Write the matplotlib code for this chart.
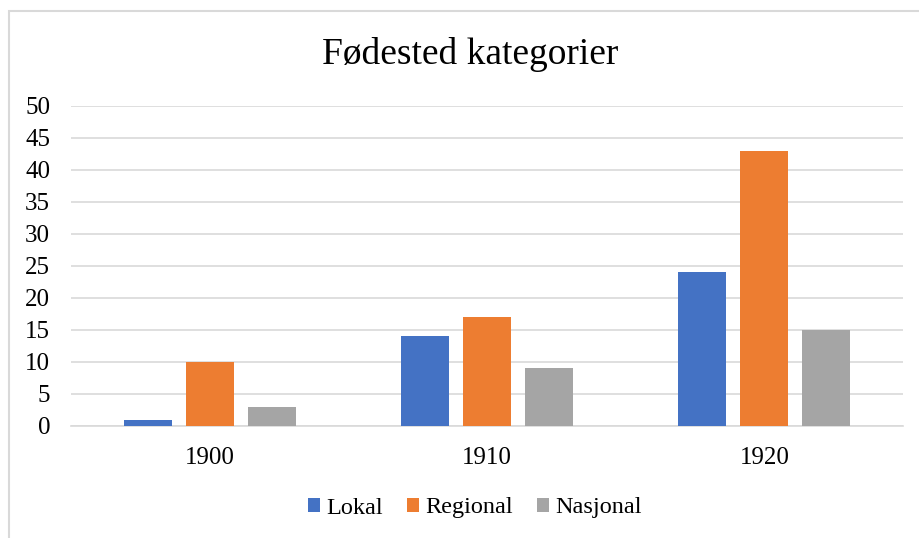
import matplotlib
matplotlib.use("Agg")
import matplotlib.pyplot as plt
import numpy as np
from matplotlib.patches import Rectangle

plt.rcParams['font.family'] = ['Liberation Serif', 'DejaVu Serif']

categories = ["1900", "1910", "1920"]
series_names = ["Lokal", "Regional", "Nasjonal"]
lokal = [1, 14, 24]
regional = [10, 17, 43]
nasjonal = [3, 9, 15]
colors = ["#4472C4", "#ED7D31", "#A5A5A5"]
yticks = [0, 5, 10, 15, 20, 25, 30, 35, 40, 45, 50]

W, H = 920, 538
fig = plt.figure(figsize=(W/100, H/100), dpi=100)
fig.patch.set_facecolor("white")

# chart border (Excel chart area outline)
fig.patches.append(Rectangle((8.5/W, -0.1), 1.2, 1 - 11/H + 0.1, transform=fig.transFigure,
                             fill=False, edgecolor="#d9d9d9", linewidth=1.5, zorder=0))

ax = fig.add_axes([71/W, 1 - 426/H, (903-71)/W, (426-106)/H])
x = np.arange(len(categories))
width = 0.173
offset = 0.2236
data = [lokal, regional, nasjonal]
handles = []
for i, (vals, name, c) in enumerate(zip(data, series_names, colors)):
    b = ax.bar(x + (i-1)*offset, vals, width, color=c, label=name, zorder=3)
    handles.append(b)

ax.set_xlim(-0.5, 2.5)
ax.set_ylim(0, 50)
ax.set_yticks(yticks)
ax.set_yticklabels([str(v) for v in yticks], fontsize=18)
ax.set_xticks(x)
ax.set_xticklabels(categories, fontsize=18)
ax.tick_params(axis='both', length=0)
ax.tick_params(axis='y', pad=15)
ax.tick_params(axis='x', pad=15)
ax.grid(axis='y', color="#d9d9d9", linewidth=1.2, zorder=0)
for s in ["top", "right", "left"]:
    ax.spines[s].set_visible(False)
ax.spines["bottom"].set_color("#d9d9d9")
ax.spines["bottom"].set_linewidth(1.2)

fig.text(470/W, 1 - 55/H, "Fødested kategorier", ha="center", va="center", fontsize=27)

fig.legend(handles=handles, labels=series_names, loc="center", bbox_to_anchor=(475/W, 1 - 508/H),
           ncol=3, frameon=False, fontsize=17.5, handlelength=0.5, handleheight=0.5,
           handletextpad=0.25, columnspacing=1.0)

fig.savefig("out.png", dpi=100)
